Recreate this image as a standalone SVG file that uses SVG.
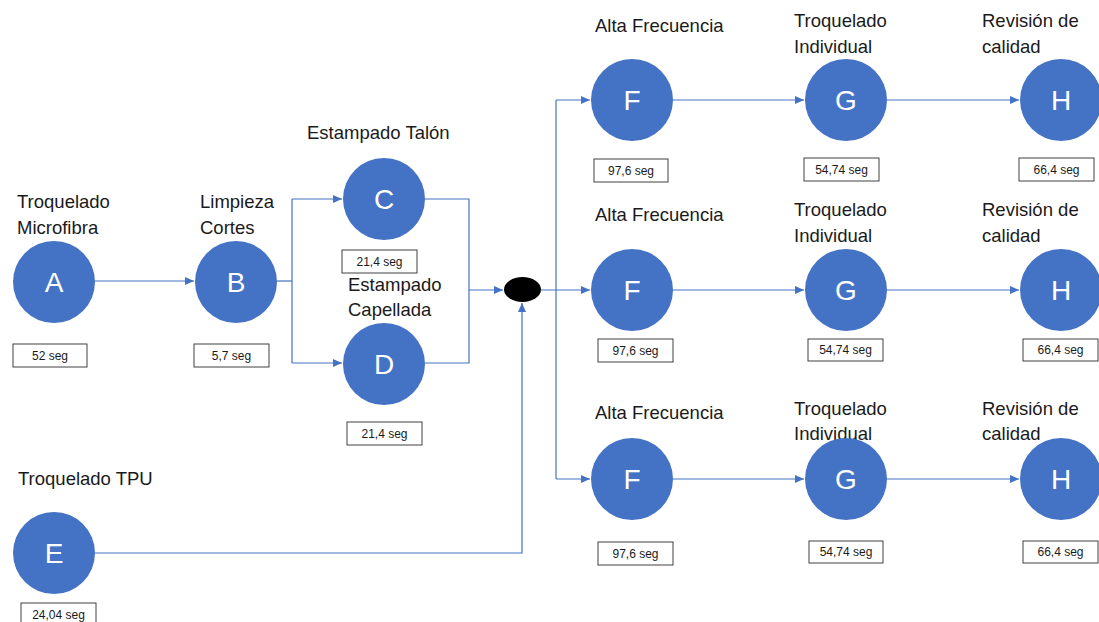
<svg xmlns="http://www.w3.org/2000/svg" width="1099" height="622" viewBox="0 0 1099 622">
<style>
.node{fill:#4472C4;}
.ltr{font-family:"Liberation Sans",Arial,sans-serif;font-size:28px;fill:#ffffff;text-anchor:middle;}
.lbl{font-family:"Liberation Sans",Arial,sans-serif;font-size:18.5px;fill:#1a1a1a;}
.box{fill:#ffffff;stroke:#404040;stroke-width:1;}
.bt{font-family:"Liberation Sans",Arial,sans-serif;font-size:12px;fill:#1a1a1a;text-anchor:middle;}
.con{fill:none;stroke:#4472C4;stroke-width:1.2;}
</style>
<defs>
<marker id="arr" markerUnits="userSpaceOnUse" markerWidth="10" markerHeight="8" refX="9" refY="4" orient="auto">
<path d="M0,0 L9,4 L0,8 Z" fill="#4472C4"/>
</marker>
</defs>
<rect width="1099" height="622" fill="#ffffff"/>
<g id="connectors">
<path class="con" d="M95,281 H194" marker-end="url(#arr)"/>
<path class="con" d="M277,281 H292"/>
<path class="con" d="M292,199 V363"/>
<path class="con" d="M292,199 H342" marker-end="url(#arr)"/>
<path class="con" d="M292,363 H342" marker-end="url(#arr)"/>
<path class="con" d="M425,199 H469 V363 H425"/>
<path class="con" d="M469,290 H503" marker-end="url(#arr)"/>
<path class="con" d="M95,553 H522 V303" marker-end="url(#arr)"/>
<path class="con" d="M541,290 H590" marker-end="url(#arr)"/>
<path class="con" d="M556,100 V479"/>
<path class="con" d="M556,100 H590" marker-end="url(#arr)"/>
<path class="con" d="M556,479 H590" marker-end="url(#arr)"/>
<path class="con" d="M673,100 H804" marker-end="url(#arr)"/>
<path class="con" d="M887,100 H1019" marker-end="url(#arr)"/>
<path class="con" d="M673,290 H804" marker-end="url(#arr)"/>
<path class="con" d="M887,290 H1019" marker-end="url(#arr)"/>
<path class="con" d="M673,479 H804" marker-end="url(#arr)"/>
<path class="con" d="M887,479 H1019" marker-end="url(#arr)"/>
</g>
<g id="merge"><ellipse cx="522.5" cy="289.5" rx="18.5" ry="12.5" fill="#000000"/></g>
<g id="nodeA">
<text class="lbl" x="17" y="208">Troquelado</text><text class="lbl" x="17" y="234">Microfibra</text>
<circle class="node" cx="54" cy="282" r="41"/><text class="ltr" x="54" y="292">A</text>
<rect class="box" x="13" y="344" width="74" height="23"/><text class="bt" x="50" y="360">52 seg</text>
</g>
<g id="nodeB">
<text class="lbl" x="200" y="208">Limpieza</text><text class="lbl" x="200" y="234">Cortes</text>
<circle class="node" cx="236" cy="282" r="41"/><text class="ltr" x="236" y="292">B</text>
<rect class="box" x="194" y="344" width="75" height="23"/><text class="bt" x="231.5" y="360">5,7 seg</text>
</g>
<g id="nodeC">
<text class="lbl" x="307" y="139">Estampado Talón</text>
<circle class="node" cx="384" cy="199" r="41"/><text class="ltr" x="384" y="209">C</text>
<rect class="box" x="342" y="250" width="75" height="23"/><text class="bt" x="379.5" y="266">21,4 seg</text>
</g>
<g id="nodeD">
<text class="lbl" x="348" y="291">Estampado</text><text class="lbl" x="348" y="316">Capellada</text>
<circle class="node" cx="384" cy="364" r="41"/><text class="ltr" x="384" y="374">D</text>
<rect class="box" x="347" y="422" width="75" height="23"/><text class="bt" x="384.5" y="438">21,4 seg</text>
</g>
<g id="nodeE">
<text class="lbl" x="18" y="485">Troquelado TPU</text>
<circle class="node" cx="54" cy="553" r="41"/><text class="ltr" x="54" y="563">E</text>
<rect class="box" x="21" y="603" width="75" height="24"/><text class="bt" x="58.5" y="619">24,04 seg</text>
</g>
<g id="nodeF1">
<text class="lbl" x="595" y="32">Alta Frecuencia</text>
<circle class="node" cx="632" cy="100" r="41"/><text class="ltr" x="632" y="110">F</text>
<rect class="box" x="594" y="159" width="74" height="23"/><text class="bt" x="631" y="175">97,6 seg</text>
</g>
<g id="nodeG1">
<text class="lbl" x="794" y="27">Troquelado</text><text class="lbl" x="794" y="53">Individual</text>
<circle class="node" cx="846" cy="100" r="41"/><text class="ltr" x="846" y="110">G</text>
<rect class="box" x="804" y="158" width="75" height="23"/><text class="bt" x="841.5" y="174">54,74 seg</text>
</g>
<g id="nodeH1">
<text class="lbl" x="982" y="27">Revisión de</text><text class="lbl" x="982" y="53">calidad</text>
<circle class="node" cx="1061" cy="100" r="41"/><text class="ltr" x="1061" y="110">H</text>
<rect class="box" x="1019" y="158" width="75" height="23"/><text class="bt" x="1056.5" y="174">66,4 seg</text>
</g>
<g id="nodeF2">
<text class="lbl" x="595" y="221">Alta Frecuencia</text>
<circle class="node" cx="632" cy="290" r="41"/><text class="ltr" x="632" y="300">F</text>
<rect class="box" x="598" y="339" width="75" height="23"/><text class="bt" x="635.5" y="355">97,6 seg</text>
</g>
<g id="nodeG2">
<text class="lbl" x="794" y="216">Troquelado</text><text class="lbl" x="794" y="242">Individual</text>
<circle class="node" cx="846" cy="290" r="41"/><text class="ltr" x="846" y="300">G</text>
<rect class="box" x="808" y="339" width="75" height="22"/><text class="bt" x="845.5" y="354">54,74 seg</text>
</g>
<g id="nodeH2">
<text class="lbl" x="982" y="216">Revisión de</text><text class="lbl" x="982" y="242">calidad</text>
<circle class="node" cx="1061" cy="290" r="41"/><text class="ltr" x="1061" y="300">H</text>
<rect class="box" x="1023" y="339" width="75" height="22"/><text class="bt" x="1060.5" y="354">66,4 seg</text>
</g>
<g id="nodeF3">
<text class="lbl" x="595" y="419">Alta Frecuencia</text>
<circle class="node" cx="632" cy="479" r="41"/><text class="ltr" x="632" y="489">F</text>
<rect class="box" x="598" y="542" width="75" height="23"/><text class="bt" x="635.5" y="558">97,6 seg</text>
</g>
<g id="nodeG3">
<text class="lbl" x="794" y="415">Troquelado</text><text class="lbl" x="794" y="440">Individual</text>
<circle class="node" cx="846" cy="479" r="41"/><text class="ltr" x="846" y="489">G</text>
<rect class="box" x="809" y="541" width="74" height="22"/><text class="bt" x="846" y="556">54,74 seg</text>
</g>
<g id="nodeH3">
<text class="lbl" x="982" y="415">Revisión de</text><text class="lbl" x="982" y="440">calidad</text>
<circle class="node" cx="1061" cy="479" r="41"/><text class="ltr" x="1061" y="489">H</text>
<rect class="box" x="1023" y="541" width="75" height="22"/><text class="bt" x="1060.5" y="556">66,4 seg</text>
</g>
</svg>
